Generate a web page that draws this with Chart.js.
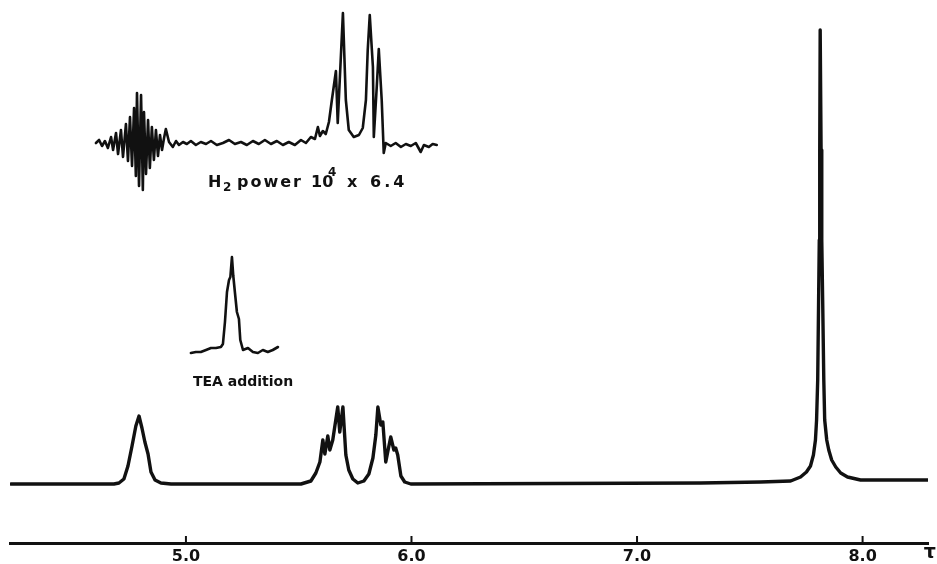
<!DOCTYPE html>
<html>
<head>
<meta charset="utf-8">
<script src="https://cdn.jsdelivr.net/npm/chart.js@4"></script>
<style>
  html, body { margin: 0; padding: 0; background: #fff; }
  canvas { display: block; }
</style>
</head>
<body>
<canvas id="nmr" width="937" height="564"></canvas>
<script>
// chemical shift (tau, ppm) and trace height
const mainShift = [4.225, 4.40, 4.681, 4.703, 4.725, 4.743, 4.761, 4.778, 4.792, 4.805, 4.818, 4.832, 4.845, 4.863, 4.889, 4.934,
  5.510, 5.554, 5.576, 5.594, 5.607, 5.616, 5.629, 5.638, 5.651, 5.673, 5.682, 5.696, 5.709, 5.722, 5.740, 5.762,
  5.789, 5.811, 5.829, 5.842, 5.851, 5.864, 5.873, 5.886, 5.899, 5.908, 5.922, 5.930, 5.939, 5.953, 5.970, 5.997,
  7.282, 7.548, 7.681, 7.725, 7.751, 7.769, 7.782, 7.791, 7.796, 7.801, 7.805, 7.808, 7.810, 7.812, 7.816, 7.819,
  7.823, 7.828, 7.832, 7.841, 7.850, 7.863, 7.881, 7.903, 7.933, 7.991, 8.288];
const mainHeight = [0, 0, 0, 1, 5, 18, 38, 58, 68, 56, 42, 30, 12, 4, 1, 0,
  0, 3, 11, 22, 44, 30, 48, 34, 44, 77, 52, 77, 29, 14, 5, 1,
  3, 10, 26, 49, 77, 59, 62, 22, 37, 47, 34, 36, 29, 8, 2, 0,
  1, 2, 3, 7, 12, 18, 29, 44, 64, 104, 184, 244, 334, 454, 334, 244,
  184, 104, 64, 44, 34, 24, 17, 11, 7, 4, 4];

// inset: H2 power 10^4 x 6.4 (decoupling run)
const h2Shift = [4.601, 4.615, 4.628, 4.641, 4.654, 4.668, 4.677, 4.690, 4.699, 4.712, 4.721, 4.734, 4.743, 4.752,
  4.761, 4.770, 4.778, 4.783, 4.792, 4.801, 4.809, 4.814, 4.823, 4.832, 4.840, 4.849, 4.858, 4.867, 4.876, 4.885,
  4.894, 4.903, 4.911, 4.925, 4.942, 4.956, 4.969, 4.987, 5.004, 5.022, 5.044, 5.066, 5.089, 5.111, 5.137, 5.164,
  5.191, 5.217, 5.244, 5.270, 5.297, 5.323, 5.350, 5.377, 5.403, 5.430, 5.456, 5.483, 5.510, 5.532, 5.554, 5.572,
  5.585, 5.594, 5.607, 5.620, 5.634, 5.647, 5.665, 5.673, 5.696, 5.709, 5.722, 5.744, 5.767, 5.784, 5.798, 5.806,
  5.815, 5.829, 5.833, 5.846, 5.855, 5.868, 5.877, 5.886, 5.908, 5.930, 5.953, 5.975, 5.997, 6.019, 6.041, 6.055,
  6.077, 6.094, 6.112];
const h2Height = [0, 3, -3, 2, -5, 6, -7, 10, -11, 13, -14, 19, -18, 26,
  -23, 35, -33, 50, -43, 48, -47, 31, -31, 23, -25, 16, -17, 13, -13, 8,
  -7, 5, 14, 1, -4, 2, -2, 1, -1, 2, -2, 1, -1, 2, -2, 0,
  3, -1, 1, -2, 2, -1, 3, -1, 2, -2, 1, -2, 3, 0, 6, 4,
  16, 7, 12, 9, 21, 43, 72, 20, 130, 43, 13, 6, 8, 15, 43, 93,
  128, 76, 6, 56, 94, 43, -10, 0, -3, 0, -4, -1, -3, 0, -9, -2,
  -4, -1, -2];

// inset: TEA addition
const teaShift = [5.022, 5.044, 5.066, 5.089, 5.111, 5.133, 5.155, 5.164, 5.173, 5.182, 5.191, 5.197, 5.204, 5.210,
  5.217, 5.226, 5.235, 5.241, 5.253, 5.275, 5.297, 5.319, 5.341, 5.363, 5.385, 5.408];
const teaHeight = [-1, 0, 0, 2, 4, 4, 5, 8, 30, 60, 72, 75, 95, 76,
  60, 40, 33, 12, 2, 4, 0, -1, 2, 0, 2, 5];

const tickValues = [5.0, 6.0, 7.0, 8.0];
// caption pieces: text, x, baseline, size, letter spacing
const h2Caption = [
  ["H", 208, 187, 16, 0],
  ["2", 223, 191, 12, 0],
  ["power", 237, 187, 16, 2],
  ["10", 311, 187, 16, 0],
  ["4", 328, 176, 12, 0],
  ["x", 347, 187, 16, 0],
  ["6.4", 370, 187, 16, 3]
];
const teaCaption = "TEA addition";
const axisUnit = "\u03c4";

const ink = "#111";
const toPoints = (xs, ys) => xs.map((v, i) => ({ x: v, y: ys[i] }));

const labels = {
  id: "labels",
  afterDraw(chart) {
    const { ctx, chartArea, scales } = chart;
    const x = scales.x;
    ctx.save();
    ctx.strokeStyle = ink;
    ctx.fillStyle = ink;
    ctx.lineWidth = 2;
    // short ticks standing up from the axis line
    tickValues.forEach(v => {
      const px = x.getPixelForValue(v);
      ctx.beginPath();
      ctx.moveTo(px, chartArea.bottom);
      ctx.lineTo(px, chartArea.bottom - 7);
      ctx.stroke();
    });
    ctx.textBaseline = "alphabetic";
    h2Caption.forEach(([t, px, py, size, sp]) => {
      ctx.font = `bold ${size}px "DejaVu Sans"`;
      ctx.letterSpacing = sp + "px";
      ctx.fillText(t, px, py);
    });
    ctx.letterSpacing = "0px";
    ctx.font = 'bold 14px "DejaVu Sans"';
    ctx.fillText(teaCaption, 193, 386);
    ctx.font = 'bold 19px "DejaVu Sans"';
    ctx.textAlign = "right";
    ctx.fillText(axisUnit, 936, 558);
    ctx.restore();
  }
};

new Chart(document.getElementById("nmr"), {
  type: "line",
  data: {
    datasets: [
      { data: toPoints(mainShift, mainHeight), yAxisID: "y", borderWidth: 3.4 },
      { data: toPoints(h2Shift, h2Height), yAxisID: "yH", borderWidth: 2.6 },
      { data: toPoints(teaShift, teaHeight), yAxisID: "yT", borderWidth: 2.6 }
    ]
  },
  options: {
    responsive: false,
    animation: false,
    devicePixelRatio: 1,
    layout: { padding: { left: 10, right: 9, top: 0, bottom: 0 } },
    elements: {
      line: { borderColor: ink, tension: 0, borderJoinStyle: "round", borderCapStyle: "round" },
      point: { radius: 0 }
    },
    plugins: { legend: { display: false }, tooltip: { enabled: false } },
    scales: {
      x: {
        type: "linear",
        min: 4.22,
        max: 8.29,
        afterBuildTicks: s => { s.ticks = tickValues.map(v => ({ value: v })); },
        afterFit: s => { s.height = 21; },
        ticks: {
          color: ink,
          padding: 4,
          font: { family: "DejaVu Sans", size: 16, weight: "bold" },
          callback: v => v.toFixed(1)
        },
        grid: { display: true, drawOnChartArea: false, drawTicks: false },
        border: { display: true, color: ink, width: 3 }
      },
      y: { display: false, min: -59, max: 484 },
      yH: { display: false, min: -400, max: 143 },
      yT: { display: false, min: -191, max: 352 }
    }
  },
  plugins: [labels]
});
</script>
</body>
</html>
